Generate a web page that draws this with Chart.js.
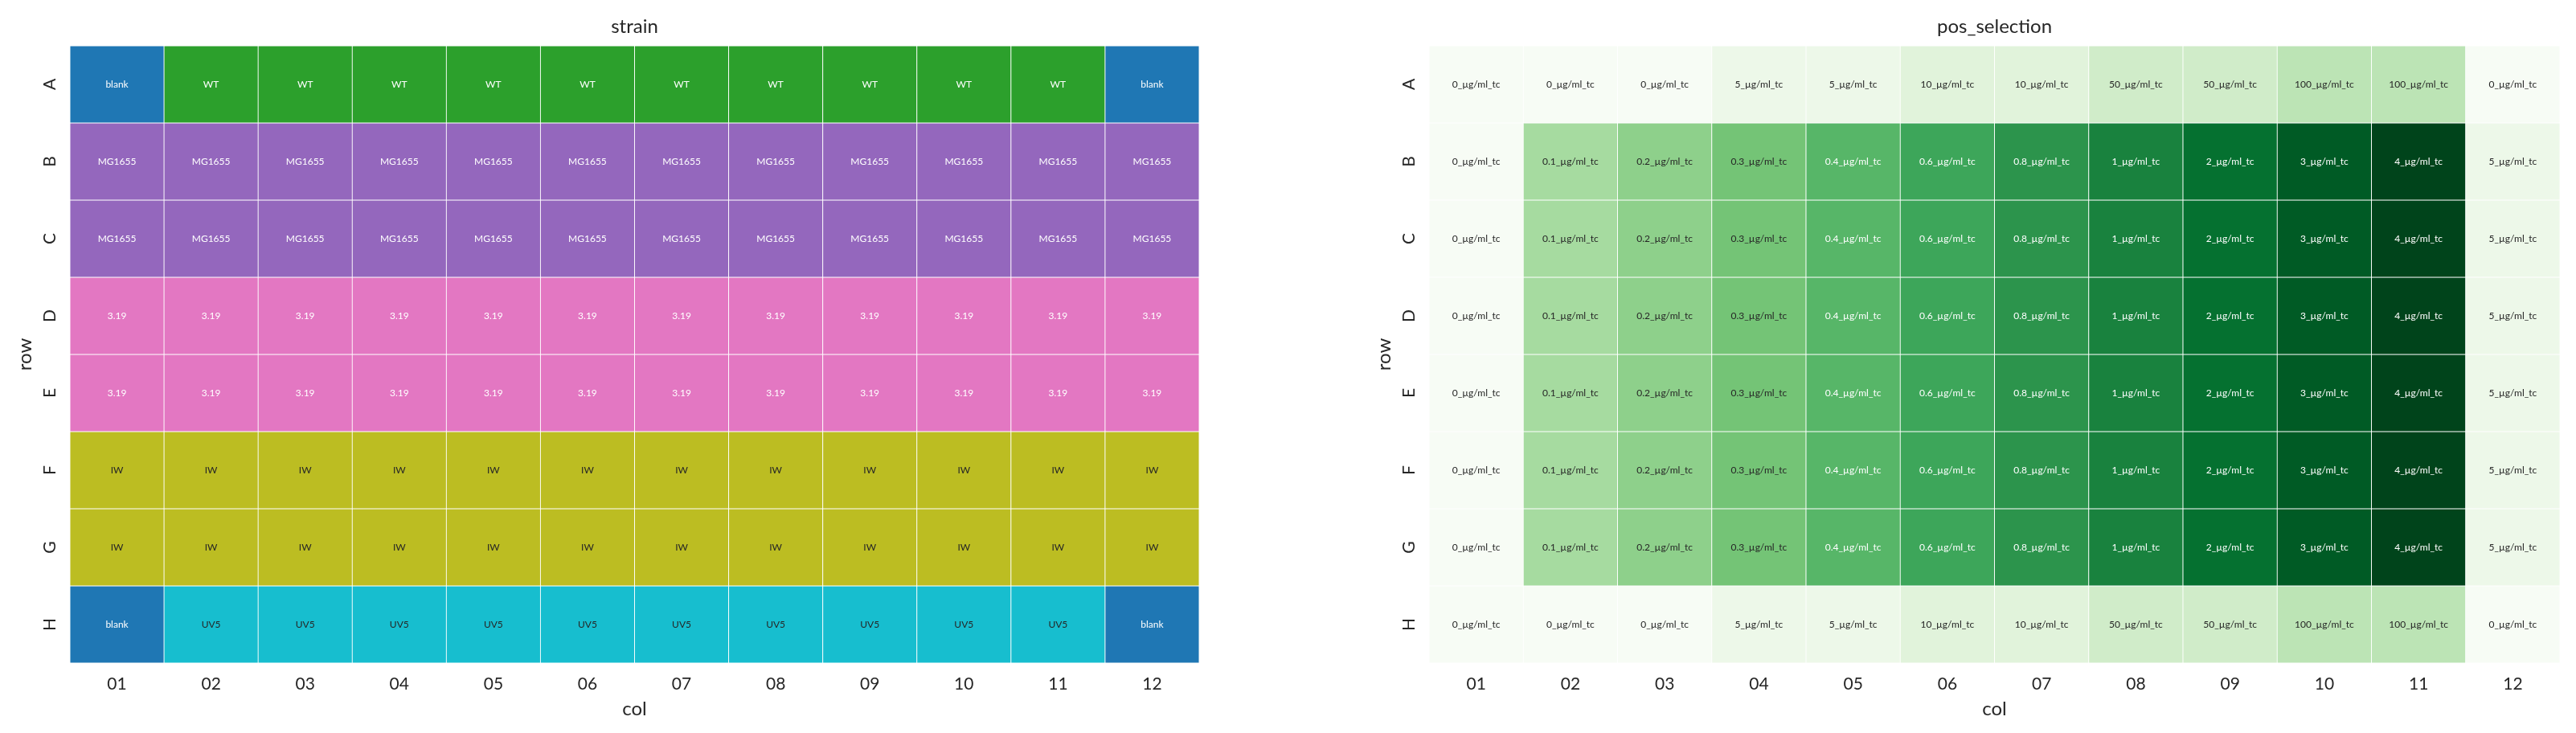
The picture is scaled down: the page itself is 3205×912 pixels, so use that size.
<!DOCTYPE html>
<html>
<head>
<meta charset="utf-8">
<script src="https://cdn.jsdelivr.net/npm/chart.js@4.4.0/dist/chart.umd.min.js"></script>
<style>
    html, body { margin: 0; padding: 0; background: #ffffff; }
    body { width: 3205px; height: 912px; position: relative; overflow: hidden; }
    canvas { position: absolute; top: 0; }
    #graficoStrain { left: 0; }
    #graficoPos { left: 1600px; }
</style>
</head>
<body>
<canvas id="graficoStrain" width="1600" height="912"></canvas>
<canvas id="graficoPos" width="1605" height="912"></canvas>
<script>
// Eixos da placa
const colunas = ['01', '02', '03', '04', '05', '06', '07', '08', '09', '10', '11', '12'];
const linhas = ['A', 'B', 'C', 'D', 'E', 'F', 'G', 'H'];

// Painel "strain" (uma lista por linha da placa)
const strain = [
    ['blank', 'WT', 'WT', 'WT', 'WT', 'WT', 'WT', 'WT', 'WT', 'WT', 'WT', 'blank'],
    ['MG1655', 'MG1655', 'MG1655', 'MG1655', 'MG1655', 'MG1655', 'MG1655', 'MG1655', 'MG1655', 'MG1655', 'MG1655', 'MG1655'],
    ['MG1655', 'MG1655', 'MG1655', 'MG1655', 'MG1655', 'MG1655', 'MG1655', 'MG1655', 'MG1655', 'MG1655', 'MG1655', 'MG1655'],
    ['3.19', '3.19', '3.19', '3.19', '3.19', '3.19', '3.19', '3.19', '3.19', '3.19', '3.19', '3.19'],
    ['3.19', '3.19', '3.19', '3.19', '3.19', '3.19', '3.19', '3.19', '3.19', '3.19', '3.19', '3.19'],
    ['IW', 'IW', 'IW', 'IW', 'IW', 'IW', 'IW', 'IW', 'IW', 'IW', 'IW', 'IW'],
    ['IW', 'IW', 'IW', 'IW', 'IW', 'IW', 'IW', 'IW', 'IW', 'IW', 'IW', 'IW'],
    ['blank', 'UV5', 'UV5', 'UV5', 'UV5', 'UV5', 'UV5', 'UV5', 'UV5', 'UV5', 'UV5', 'blank']
];

// Painel "pos_selection"
const bordaPos = ['0_µg/ml_tc', '0_µg/ml_tc', '0_µg/ml_tc', '5_µg/ml_tc', '5_µg/ml_tc', '10_µg/ml_tc', '10_µg/ml_tc', '50_µg/ml_tc', '50_µg/ml_tc', '100_µg/ml_tc', '100_µg/ml_tc', '0_µg/ml_tc'];
const meioPos = ['0_µg/ml_tc', '0.1_µg/ml_tc', '0.2_µg/ml_tc', '0.3_µg/ml_tc', '0.4_µg/ml_tc', '0.6_µg/ml_tc', '0.8_µg/ml_tc', '1_µg/ml_tc', '2_µg/ml_tc', '3_µg/ml_tc', '4_µg/ml_tc', '5_µg/ml_tc'];
const posSelection = [bordaPos, meioPos, meioPos, meioPos, meioPos, meioPos, meioPos, bordaPos];

// Ordem das categorias (ordem de aparecimento) e cores
const concentracoes = ['0_µg/ml_tc', '5_µg/ml_tc', '10_µg/ml_tc', '50_µg/ml_tc', '100_µg/ml_tc',
    '0.1_µg/ml_tc', '0.2_µg/ml_tc', '0.3_µg/ml_tc', '0.4_µg/ml_tc', '0.6_µg/ml_tc',
    '0.8_µg/ml_tc', '1_µg/ml_tc', '2_µg/ml_tc', '3_µg/ml_tc', '4_µg/ml_tc'];
const verdes = ['#f7fcf5', '#edf8e9', '#e1f3db', '#d0ecc9', '#bce4b5', '#a6dba0', '#8ed08b', '#74c476',
    '#57b668', '#3da65a', '#2c944c', '#19823e', '#057130', '#005b25', '#00441b'];

const coresStrain = {
    'blank': '#1f77b4', 'WT': '#2ca02c', 'MG1655': '#9467bd',
    '3.19': '#e377c2', 'IW': '#bcbd22', 'UV5': '#17becf'
};
const coresPos = {};
concentracoes.forEach((c, i) => { coresPos[c] = verdes[i]; });

const fonte = 'Lato, "Open Sans", "DejaVu Sans", sans-serif';
const corTexto = '#262626';
Chart.defaults.font.family = fonte;
Chart.defaults.color = corTexto;

// Texto claro ou escuro conforme a luminância da célula
function corDoTexto(hex) {
    const canal = v => {
        v = v / 255;
        return v <= 0.03928 ? v / 12.92 : Math.pow((v + 0.055) / 1.055, 2.4);
    };
    const r = canal(parseInt(hex.slice(1, 3), 16));
    const g = canal(parseInt(hex.slice(3, 5), 16));
    const b = canal(parseInt(hex.slice(5, 7), 16));
    const lum = 0.2126 * r + 0.7152 * g + 0.0722 * b;
    return lum > 0.408 ? corTexto : '#ffffff';
}

function montarDatasets(valores, cores) {
    return linhas.map((linha, i) => ({
        label: linha,
        yAxisID: 'yv',
        data: colunas.map(() => [i, i + 1]),
        textos: valores[i],
        backgroundColor: valores[i].map(v => cores[v]),
        borderColor: '#ffffff',
        borderWidth: 0.8,
        borderSkipped: false,
        barPercentage: 1,
        categoryPercentage: 1,
        grouped: false
    }));
}

// Escreve o rótulo dentro de cada célula
const pluginTextos = {
    id: 'textosCelulas',
    afterDatasetsDraw(chart) {
        const ctx = chart.ctx;
        ctx.save();
        ctx.font = '12px ' + fonte;
        ctx.textAlign = 'center';
        ctx.textBaseline = 'middle';
        chart.data.datasets.forEach((ds, i) => {
            const meta = chart.getDatasetMeta(i);
            meta.data.forEach((barra, j) => {
                ctx.fillStyle = corDoTexto(ds.backgroundColor[j]);
                ctx.fillText(ds.textos[j], barra.x, (barra.y + barra.base) / 2);
            });
        });
        ctx.restore();
    }
};

function criarOpcoes(titulo, paddingEsquerda, paddingDireita) {
    return {
        responsive: false,
        animation: false,
        layout: {
            padding: { left: paddingEsquerda, right: paddingDireita, top: 0, bottom: 0 }
        },
        plugins: {
            legend: { display: false },
            tooltip: { enabled: false },
            title: {
                display: true,
                text: titulo,
                fullSize: false,
                color: corTexto,
                font: { size: 24, weight: 'normal' },
                padding: { top: 18.5, bottom: 9.7 }
            }
        },
        scales: {
            x: {
                type: 'category',
                offset: true,
                grid: { display: false, drawTicks: false },
                border: { display: false },
                ticks: { font: { size: 21 }, padding: 14, maxRotation: 0 },
                title: {
                    display: true,
                    text: 'col',
                    font: { size: 24 },
                    padding: { top: 0, bottom: 15 }
                },
                afterFit: escala => { escala.height = 87; }
            },
            y: {
                type: 'category',
                labels: linhas,
                position: 'left',
                offset: true,
                grid: { display: false, drawTicks: false },
                border: { display: false },
                ticks: { font: { size: 21 }, padding: 17, minRotation: 90, maxRotation: 90, crossAlign: 'center' },
                title: {
                    display: true,
                    text: 'row',
                    font: { size: 24 },
                    padding: { top: 16.6, bottom: 0 }
                },
                afterFit: escala => { escala.width = 87; }
            },
            yv: {
                type: 'linear',
                axis: 'y',
                display: false,
                min: 0,
                max: linhas.length,
                reverse: true
            }
        }
    };
}

new Chart(document.getElementById('graficoStrain'), {
    type: 'bar',
    data: { labels: colunas, datasets: montarDatasets(strain, coresStrain) },
    options: criarOpcoes('strain', 0, 108),
    plugins: [pluginTextos]
});

new Chart(document.getElementById('graficoPos'), {
    type: 'bar',
    data: { labels: colunas, datasets: montarDatasets(posSelection, coresPos) },
    options: criarOpcoes('pos_selection', 91, 20),
    plugins: [pluginTextos]
});
</script>
</body>
</html>
